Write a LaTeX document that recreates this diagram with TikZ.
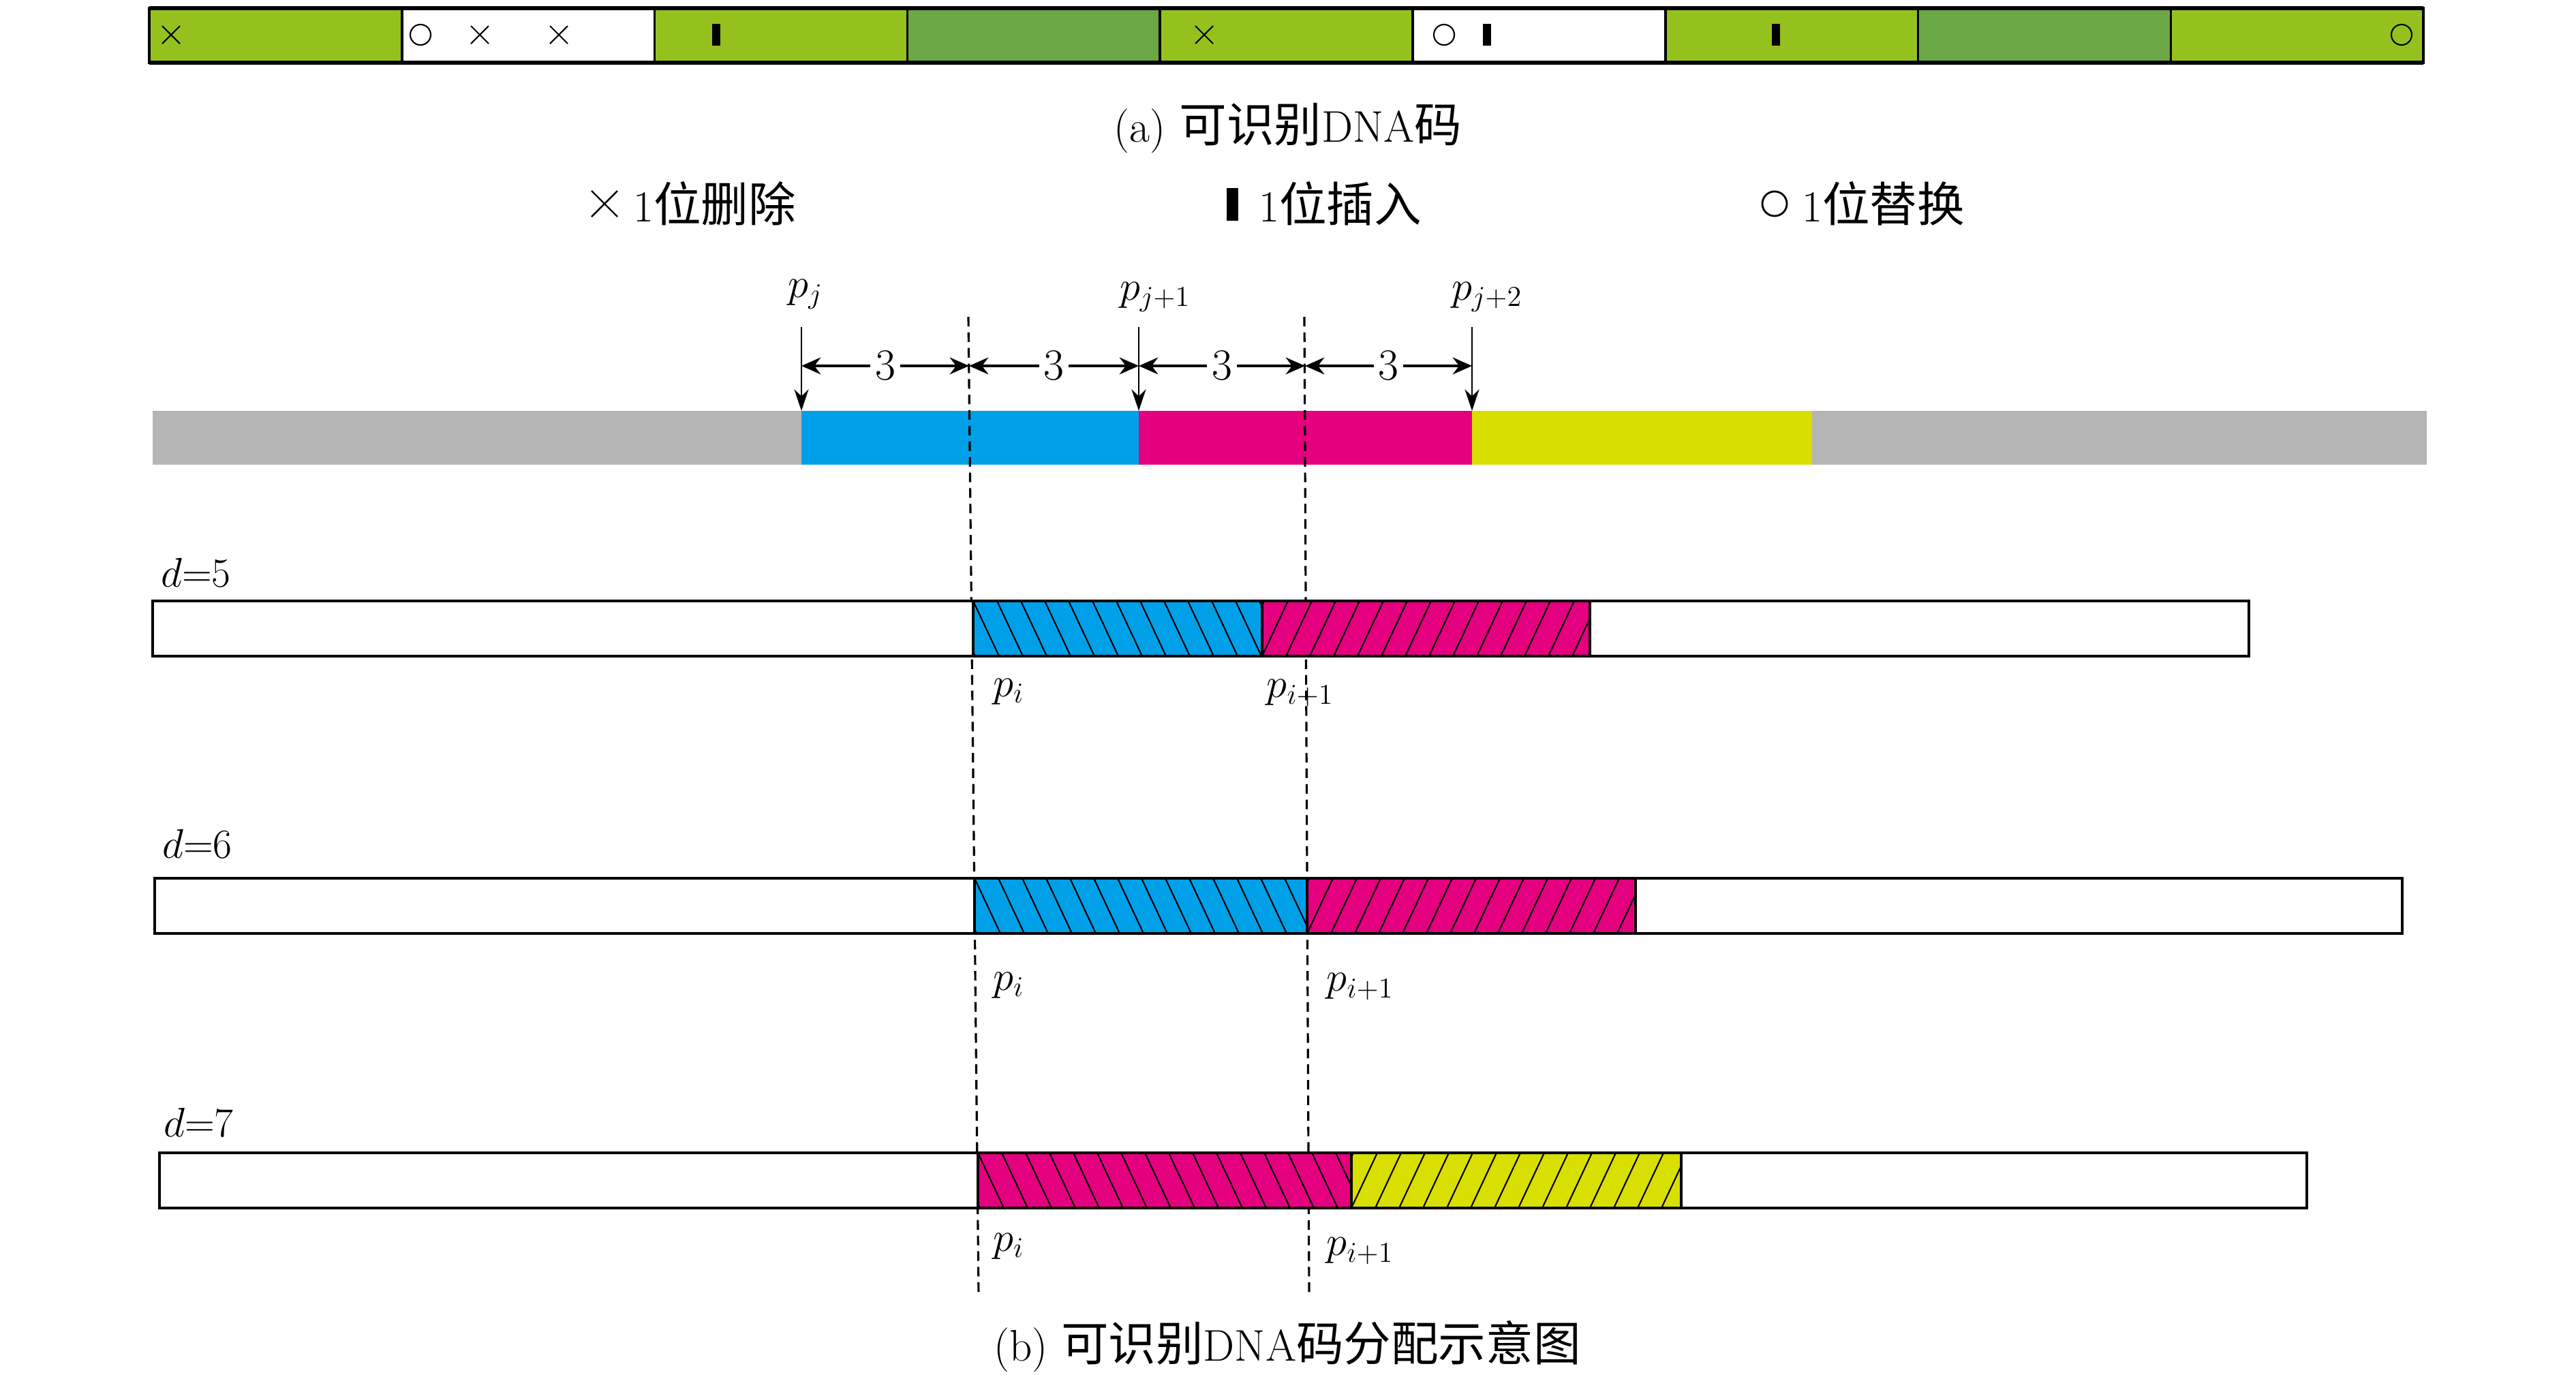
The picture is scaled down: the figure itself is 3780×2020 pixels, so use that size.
\documentclass[tikz,border=0pt]{standalone}
\usepackage{fontspec}
\newfontfamily\cjk[Scale=1.07]{Noto Sans CJK SC}
\usetikzlibrary{arrows.meta}
\definecolor{lgreen}{HTML}{95C11F}
\definecolor{dgreen}{HTML}{6CA745}
\definecolor{cblue}{HTML}{00A0E9}
\definecolor{cmag}{HTML}{E4007F}
\definecolor{cyel}{HTML}{D9DF00}
\definecolor{cgray}{HTML}{B5B5B5}
\newcommand\myhatch[6]{%
  \fill[#5] (#1,#2) rectangle (#3,#4);
  \begin{scope}
    \clip (#1,#2) rectangle (#3,#4);
    \foreach \k in {-3,...,20}{
      \ifnum#6=1
        \draw[hatchline] ({#1+\k*35},#4) -- ({#1+\k*35+38},#2);
      \else
        \draw[hatchline] ({#1+\k*35},#2) -- ({#1+\k*35+38},#4);
      \fi
    }
  \end{scope}
  \draw[barline] (#1,#2) rectangle (#3,#4);
}
\begin{document}
\begin{tikzpicture}[x=0.01cm,y=-0.01cm,
  font=\fontsize{18.5}{22}\selectfont,
  barline/.style={draw=black,line width=1pt},
  hatchline/.style={draw=black,line width=0.6pt},
  guide/.style={draw=black,line width=0.9pt,dash pattern=on 4pt off 2.5pt},
  dimarrow/.style={{Stealth[length=8pt,width=7pt]}-{Stealth[length=8pt,width=7pt]},line width=1.3pt},
  posarrow/.style={-{Stealth[length=9pt,width=6pt]},line width=0.7pt},
  lbl/.style={inner sep=1pt},
  dimlbl/.style={fill=white,inner sep=2pt}]
\useasboundingbox (0,0) rectangle (3780,2020);

% ---------- (a) code strip ----------
\foreach \i/\c in {0/lgreen,1/white,2/lgreen,3/dgreen,4/lgreen,5/white,6/lgreen,7/dgreen,8/lgreen}
  \filldraw[fill=\c,barline] ({219+\i*370.8},12) rectangle ({219+(\i+1)*370.8},92);
\draw[line width=1.6pt] (219,12) -- (3556,12) (219,92) -- (3556,92);
\foreach \x in {251,704,820,1767}
  \draw[line width=0.6pt] (\x-13,38) -- (\x+13,64) (\x-13,64) -- (\x+13,38);
\foreach \x in {617,2119,3524}
  \draw[line width=0.6pt] (\x,51) circle[radius=0.15cm];
\foreach \x in {1051,2182,2606}
  \fill (\x-6,35) rectangle (\x+6,67);

\node[lbl] (capa) at (1890,188) {(a) {\cjk 可识别}DNA{\cjk 码}};

% legend
\draw[line width=0.7pt] (868,280) -- (906,318) (868,318) -- (906,280);
\node[lbl,anchor=west] (legdel) at (925,299) {1{\cjk 位删除}};
\fill (1800,276) rectangle (1817,324);
\node[lbl,anchor=west] (legins) at (1843,299) {1{\cjk 位插入}};
\draw[line width=0.8pt] (2604,299) circle[radius=0.18cm];
\node[lbl,anchor=west] (legsub) at (2640,299) {1{\cjk 位替换}};

% ---------- (b) ----------
\fill[cgray] (224,603) rectangle (3561,682);
\fill[cblue] (1176,603) rectangle (1671,682);
\fill[cmag] (1671,603) rectangle (2160,682);
\fill[cyel] (2160,603) rectangle (2659,682);

\coordinate (pj) at (1176,603);
\coordinate (pj1) at (1671,603);
\coordinate (pj2) at (2160,603);
\coordinate (pjt) at (1176,480);
\coordinate (pj1t) at (1671,480);
\coordinate (pj2t) at (2160,480);
\node[lbl] (lpj) at (1182,432) {$p_j$};
\node[lbl] (lpj1) at (1695,436) {$p_{j+1}$};
\node[lbl] (lpj2) at (2182,436) {$p_{j+2}$};
\draw[posarrow] (pjt) -- (pj);
\draw[posarrow] (pj1t) -- (pj1);
\draw[posarrow] (pj2t) -- (pj2);

% dashed guide lines
\coordinate (ga) at (1421,465);
\coordinate (gb) at (1436,1902);
\coordinate (gc) at (1914,465);
\coordinate (gd) at (1921,1902);
\draw[guide] (ga) -- (gb);
\draw[guide] (gc) -- (gd);

% dimension arrows
\coordinate (m0) at (1176,537);
\coordinate (m1) at (1422,537);
\coordinate (m2) at (1671,537);
\coordinate (m3) at (1915,537);
\coordinate (m4) at (2160,537);
\draw[dimarrow] (m0) -- node[dimlbl] (n1) {3} (m1);
\draw[dimarrow] (m1) -- node[dimlbl] (n2) {3} (m2);
\draw[dimarrow] (m2) -- node[dimlbl] (n3) {3} (m3);
\draw[dimarrow] (m3) -- node[dimlbl] (n4) {3} (m4);

% d = 5
\node[lbl,anchor=west] (d5) at (232,840) {$d{=}5$};
\draw[barline,fill=white] (224,882) rectangle (3300,963);
\myhatch{1428}{882}{1852}{963}{cblue}{0}
\myhatch{1852}{882}{2333}{963}{cmag}{1}
\node[lbl] (p5a) at (1480,1015) {$p_i$};
\node[lbl] (p5b) at (1908,1017) {$p_{i+1}$};

% d = 6
\node[lbl,anchor=west] (d6) at (234,1238) {$d{=}6$};
\draw[barline,fill=white] (227,1289) rectangle (3525,1370);
\myhatch{1430}{1289}{1918}{1370}{cblue}{0}
\myhatch{1918}{1289}{2400}{1370}{cmag}{1}
\node[lbl] (p6a) at (1480,1446) {$p_i$};
\node[lbl] (p6b) at (1996,1448) {$p_{i+1}$};

% d = 7
\node[lbl,anchor=west] (d7) at (236,1647) {$d{=}7$};
\draw[barline,fill=white] (234,1692) rectangle (3385,1773);
\myhatch{1435}{1692}{1983}{1773}{cmag}{0}
\myhatch{1983}{1692}{2467}{1773}{cyel}{1}
\node[lbl] (p7a) at (1480,1829) {$p_i$};
\node[lbl] (p7b) at (1996,1836) {$p_{i+1}$};

\node[lbl] (capb) at (1889,1976) {(b) {\cjk 可识别}DNA{\cjk 码分配示意图}};
\end{tikzpicture}
\end{document}
